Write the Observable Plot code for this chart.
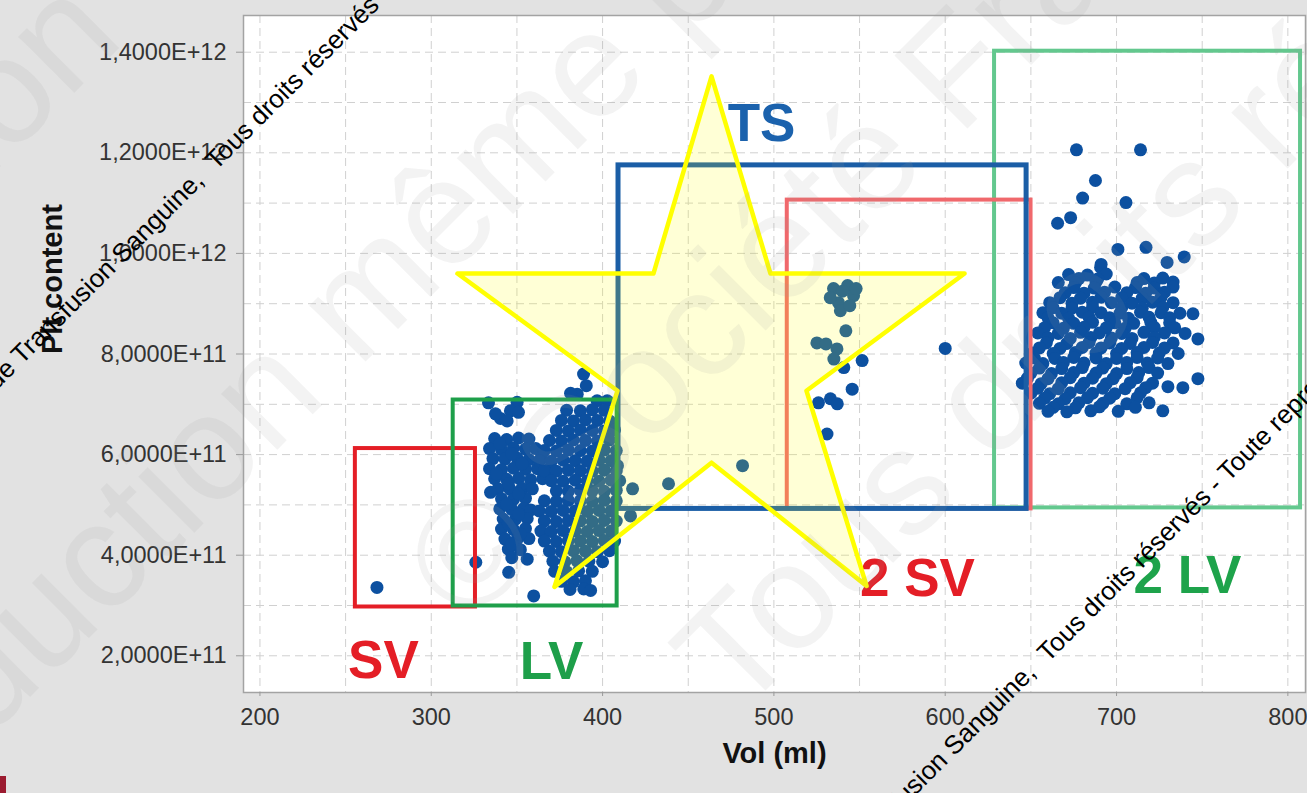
<!DOCTYPE html>
<html><head><meta charset="utf-8">
<script src="https://cdn.jsdelivr.net/npm/d3@7"></script>
<script src="https://cdn.jsdelivr.net/npm/@observablehq/plot@0.6"></script>
<style>
html,body{margin:0;padding:0;background:#e2e2e2;width:1307px;height:793px;overflow:hidden;}
#wrap{position:relative;width:1307px;height:793px;}
#chart{position:absolute;left:0;top:0;}
#wm{position:absolute;left:0;top:0;pointer-events:none;}
#mark{position:absolute;left:0;top:776px;width:6px;height:17px;background:#9b1b30;}
</style></head><body>
<div id="wrap">
<div id="chart"></div>
<svg id="wm" width="1307" height="793" xmlns="http://www.w3.org/2000/svg">
  <g font-family="'Liberation Sans', Arial, sans-serif" font-size="150" fill="rgb(160,160,160)" fill-opacity="0.12">
    <text x="126" y="41" text-anchor="end" transform="rotate(-45 126 41)">Transfusion</text>
    <text x="-302" y="1029" transform="rotate(-45 -302 1029)">Reproduction même partielle interdite</text>
    <text x="468" y="628" transform="rotate(-45 468 628)">© Société Française de Transfusion</text>
    <text x="738" y="718" transform="rotate(-45 738 718)">Tous droits réservés</text>
  </g>
  <g font-family="'Liberation Sans', Arial, sans-serif" font-size="26" fill="#000">
    <text x="205" y="182" text-anchor="end" transform="rotate(-45 205 182)">Société Française de Transfusion Sanguine,</text>
    <text x="216" y="171" transform="rotate(-45 216 171)">Tous droits réservés - Toute reproduction interdite</text>
    <text x="1037" y="674" text-anchor="end" transform="rotate(-45 1037 674)">Société Française de Transfusion Sanguine,</text>
    <text x="1048" y="663" transform="rotate(-45 1048 663)">Tous droits réservés - Toute reproduction interdite</text>
  </g>
</svg>
<div id="mark"></div>
</div>
<script>
// ---- data: [Vol (ml), Plt content in units of 1E+11] ----
const svPoints = [[268.3,3.36]];

const lvPoints = [
  [333.4,7.03],[350.1,7.04],[346.2,6.87],[340.4,6.72],[344.3,6.67],[350.9,6.84],[337.5,6.81],
  [337,6.32],[344,6.30],[351,6.33],[357,6.31],
  [334,6.12],[341,6.10],[348,6.13],[355,6.11],[361,6.12],
  [336,5.92],[343,5.91],[350,5.93],[357,5.90],[364,5.92],
  [334,5.72],[341,5.70],[348,5.73],[355,5.71],[362,5.72],[368,5.70],
  [337,5.52],[344,5.51],[351,5.53],[358,5.50],[365,5.52],
  [339,5.32],[346,5.31],[353,5.33],[359,5.32],
  [341,5.12],[348,5.11],[355,5.13],
  [340,4.92],[347,4.91],[354,4.93],[358,4.90],
  [342,4.72],[349,4.71],[356,4.73],
  [341,4.52],[348,4.51],[355,4.53],
  [343,4.32],[350,4.31],[357,4.33],
  [345,4.12],[352,4.11],[347,3.95],
  [340,6.22],[347,6.02],[353,5.82],[338,5.62],[345,5.42],[351,5.22],[344,5.02],[351,4.82],[345,4.62],[352,4.42],[347,4.22],
  [334.6,5.25],[326,3.86],[345.2,3.66],[356,3.92],[359.8,3.19],
  [388.9,7.60],[385.2,7.20],[381.3,7.22],[390.5,7.37],[396.8,7.07],[402.7,7.07],
  [379,6.88],[387,6.87],[394,6.89],[401,6.88],
  [376,6.68],[383,6.67],[390,6.69],[397,6.68],[404,6.67],
  [373,6.48],[380,6.47],[387,6.49],[394,6.48],[401,6.47],[407,6.49],
  [369,6.28],[376,6.27],[383,6.29],[390,6.28],[397,6.27],[404,6.29],
  [366,6.08],[373,6.07],[380,6.09],[387,6.08],[394,6.07],[401,6.09],[408,6.08],
  [363,5.88],[370,5.87],[377,5.89],[384,5.88],[391,5.87],[398,5.89],[405,5.88],
  [366,5.68],[373,5.67],[380,5.69],[387,5.68],[394,5.67],[401,5.69],[408,5.68],
  [370,5.48],[377,5.47],[384,5.49],[391,5.48],[398,5.47],[405,5.49],[410,5.48],
  [373,5.28],[380,5.27],[387,5.29],[394,5.28],[401,5.27],[408,5.29],
  [366,5.08],[373,5.07],[380,5.09],[387,5.08],[394,5.07],[401,5.09],[408,5.08],
  [363,4.88],[370,4.87],[377,4.89],[384,4.88],[391,4.87],[398,4.89],[405,4.88],
  [366,4.68],[373,4.67],[380,4.69],[387,4.68],[394,4.67],[401,4.69],[408,4.68],
  [364,4.48],[370,4.47],[377,4.49],[384,4.48],[391,4.47],[398,4.49],[405,4.48],
  [366,4.28],[373,4.27],[380,4.29],[387,4.28],[394,4.27],[401,4.29],[407,4.28],
  [369,4.08],[376,4.07],[383,4.09],[390,4.08],[397,4.07],[404,4.09],
  [371,3.88],[378,3.87],[385,3.89],[392,3.88],[400,3.87],
  [372,3.68],[379,3.67],[386,3.69],[394,3.68],
  [376,3.48],[383,3.47],[390,3.49],
  [381,3.32],[389,3.33],[393,3.30]
];

const tsPoints = [[408.7,5.78],[417.5,5.32],[438.5,5.42],[481.7,5.78],[416.3,4.78]];

const sv2Points = [
  [534.8,9.30],[543,9.36],[546.5,9.16],[537.7,9.02],[538.8,8.86],[532.9,9.12],[544.3,8.96],[540,9.25],[548,9.30],
  [542,8.46],[525.1,8.22],[530.4,8.20],[536.8,8.10],[535,7.90],[540.8,7.73],[551.5,7.87],[545.7,7.30],
  [526,7.03],[533,7.11],[537,7.01],[531,6.41],[600,8.11]
];

const lv2Points = [
  [676.6,12.06],[714,12.06],[687.7,11.45],[680.2,11.10],[673.2,10.71],[665.6,10.60],[705.5,11.01],
  [700.8,10.08],[717.2,10.12],[729.5,9.82],[739.5,9.93],[744.6,8.80],[747.5,8.30],[747.5,7.51],
  [738.7,7.33],[730,7.35],[727,6.87],[690.7,9.72],
  [691,9.78],
  [672,9.58],[683,9.57],[694,9.59],
  [678,9.50],[689,9.49],[716,9.50],[727,9.51],
  [666,9.42],[676,9.41],[688,9.43],[712,9.42],[722,9.41],[733,9.43],
  [675,9.32],[687,9.31],[699,9.33],[711,9.32],[722,9.31],[733,9.33],
  [670,9.22],[681,9.21],[693,9.23],[706,9.22],[717,9.21],[728,9.23],
  [667,9.12],[679,9.11],[691,9.13],[703,9.12],[715,9.11],[726,9.13],
  [661,9.02],[674,9.01],[686,9.03],[697,9.02],[709,9.01],[721,9.03],[733,9.02],
  [663,8.92],[674,8.91],[686,8.93],[703,8.92],[715,8.91],[727,8.93],
  [657,8.82],[668,8.81],[680,8.83],[691,8.82],[702,8.81],[714,8.83],[726,8.82],[737,8.81],
  [660,8.72],[672,8.71],[684,8.73],[696,8.72],[707,8.71],[719,8.73],[731,8.72],
  [663,8.62],[675,8.61],[686,8.63],[699,8.62],[710,8.61],[720,8.63],[731,8.62],
  [658,8.52],[669,8.51],[681,8.53],[694,8.52],[705,8.51],[722,8.53],[734,8.52],
  [654,8.42],[666,8.41],[679,8.43],[690,8.42],[703,8.41],[716,8.43],[728,8.42],[740,8.41],
  [660,8.32],[673,8.31],[685,8.33],[697,8.32],[709,8.31],[722,8.33],
  [659,8.22],[671,8.21],[684,8.23],[696,8.22],[708,8.21],[721,8.23],[733,8.22],
  [655,8.12],[667,8.11],[680,8.13],[691,8.12],[703,8.11],[716,8.13],[728,8.12],
  [651,8.02],[663,8.01],[676,8.03],[688,8.02],[700,8.01],[712,8.03],[725,8.02],[736,8.01],
  [652,7.92],[664,7.91],[675,7.93],[688,7.92],[700,7.91],[712,7.93],[724,7.92],
  [647,7.82],[657,7.81],[669,7.83],[681,7.82],[694,7.81],[706,7.83],[718,7.82],[730,7.81],
  [655,7.72],[668,7.71],[680,7.73],[692,7.72],[706,7.71],[719,7.73],
  [650,7.62],[662,7.61],[675,7.63],[688,7.62],[700,7.61],[713,7.63],[724,7.62],
  [648,7.52],[660,7.51],[673,7.53],[686,7.52],[698,7.51],[712,7.53],
  [645,7.42],[656,7.41],[668,7.43],[681,7.42],[694,7.41],[708,7.43],[721,7.42],
  [654,7.32],[666,7.31],[679,7.33],[692,7.32],[705,7.31],[717,7.33],
  [650,7.22],[661,7.21],[673,7.23],[686,7.22],[699,7.21],[714,7.23],
  [658,7.12],[670,7.11],[683,7.13],[696,7.12],[712,7.13],
  [655,7.02],[666,7.01],[678,7.03],[692,7.02],[706,7.01],[719,7.03],
  [663,6.94],[676,6.93],[690,6.95],[711,6.94],
  [660,6.86],[671,6.85],[685,6.87],[701,6.86]
];

// boxes (data units): name, vol range, Plt range (E+11)
const boxNames = ["2 LV","2 SV","TS","SV","LV"];
const boxVolMin = [628.8, 507.8, 409.3, 255.7, 312.8];
const boxVolMax = [807.4, 650.1, 647.5, 325.8, 408.5];
const boxPltMin = [4.94, 4.92, 4.92, 2.97, 2.99];
const boxPltMax = [14.02, 11.06, 11.75, 6.12, 7.085];
const boxColors = ["#63c88e", "#f0686c", "#1b5ea6", "#e41e26", "#1e9f4a"];
const boxWidths = [4, 4, 5, 4, 4];

// annotation labels
const labelText = ["SV", "LV", "TS", "2 SV", "2 LV"];
const labelVol = [272.1, 370.2, 492.8, 583.8, 741.4];
const labelPlt = [1.90, 1.88, 12.58, 3.53, 3.59];
const labelColors = ["#e41e26", "#1e9f4a", "#1b62ad", "#e41e26", "#1ea34b"];

// star annotation vertices (data units)
const starVol = [463.6, 498.0, 611.3, 519.0, 554.1, 463.6, 371.9, 408.7, 315.3, 429.7];
const starPlt = [13.52, 9.60, 9.60, 7.27, 3.39, 5.84, 3.37, 7.27, 9.60, 9.60];

// axes
const xTicks = [200, 300, 400, 500, 600, 700, 800];
const xGrid = [200, 250, 300, 350, 400, 450, 500, 550, 600, 650, 700, 750, 800];
const yTicksE11 = [2, 4, 6, 8, 10, 12, 14];
const yGridE11 = [2, 3, 4, 5, 6, 7, 8, 9, 10, 11, 12, 13, 14];

// ---- build ----
const E11 = 1e11;
const dots = [...svPoints, ...lvPoints, ...tsPoints, ...sv2Points, ...lv2Points]
  .map(([v, p]) => ({vol: v, plt: p * E11}));
const boxes = boxNames.map((n, i) => ({name: n, x1: boxVolMin[i], x2: boxVolMax[i], y1: boxPltMin[i] * E11, y2: boxPltMax[i] * E11}));
const labels = labelText.map((t, i) => ({text: t, vol: labelVol[i], plt: labelPlt[i] * E11, color: labelColors[i]}));
const star = starVol.map((v, i) => ({vol: v, plt: starPlt[i] * E11}));

const fmtE = v => {
  const e = Math.floor(Math.log10(v) + 1e-9);
  const m = v / Math.pow(10, e);
  return m.toFixed(4).replace(".", ",") + "E+" + e;
};

const chart = Plot.plot({
  width: 1307, height: 793,
  marginLeft: 243, marginRight: 2, marginTop: 15, marginBottom: 101,
  style: {background: "transparent", fontFamily: "'Liberation Sans', Arial, sans-serif", fontSize: "23.5px", color: "#333"},
  x: {domain: [190.4, 810.3]},
  y: {domain: [1.27e11, 14.73e11]},
  marks: [
    Plot.frame({fill: "white", stroke: null}),
    Plot.ruleX(xGrid, {stroke: "#d0d0d0", strokeDasharray: "8,5", strokeWidth: 1}),
    Plot.ruleY(yGridE11.map(v => v * E11), {stroke: "#d0d0d0", strokeDasharray: "8,5", strokeWidth: 1}),
    Plot.dot(dots, {x: "vol", y: "plt", r: 6.5, fill: "#0c50a0", stroke: null}),
    ...boxes.map((b, i) => Plot.rect([b], {x1: "x1", x2: "x2", y1: "y1", y2: "y2", fill: "none", stroke: boxColors[i], strokeWidth: boxWidths[i]})),
    ...labels.map(l => Plot.text([l], {x: "vol", y: "plt", text: "text", fill: l.color, fontSize: 53, fontWeight: "bold"})),
    Plot.line(star, {x: "vol", y: "plt", curve: "linear-closed", fill: "#ffff00", fillOpacity: 0.16, stroke: "#ffff00", strokeWidth: 4.5}),
    Plot.frame({stroke: "#a3a3a3", strokeWidth: 1.5}),
    Plot.axisX({ticks: xTicks, tickSize: 4, tickPadding: 12, label: null, stroke: "#9a9a9a", fill: "#333"}),
    Plot.axisY({ticks: yTicksE11.map(v => v * E11), tickFormat: fmtE, tickSize: 7, tickPadding: 10, label: null, stroke: "#9a9a9a", fill: "#333"}),
    Plot.text(["Vol (ml)"], {text: d => d, frameAnchor: "bottom", dy: 70, fontSize: 29, fontWeight: "bold", fill: "#111"}),
    Plot.text(["Plt content"], {text: d => d, frameAnchor: "left", dx: -191, rotate: -90, fontSize: 29, fontWeight: "bold", fill: "#111"})
  ]
});
document.getElementById("chart").appendChild(chart);
</script>
</body></html>
